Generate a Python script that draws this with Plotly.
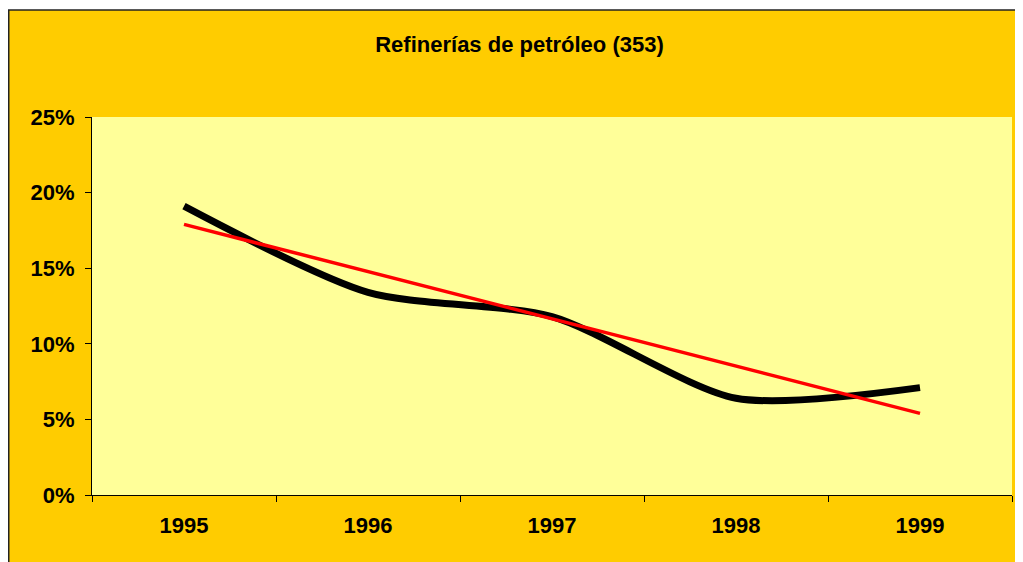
import plotly.graph_objects as go

# data
years = ["1995", "1996", "1997", "1998", "1999"]
share = [19.1, 13.4, 11.8, 6.4, 7.1]           # black series, %
trend_years = ["1995", "1999"]
trend = [17.9, 5.4]                             # red linear trend, %
y_ticks = [0, 5, 10, 15, 20, 25]
y_labels = ["<b>0%</b>", "<b>5%</b>", "<b>10%</b>", "<b>15%</b>",
            "<b>20%</b>", "<b>25%</b>"]

GOLD = "#FFCC00"
PALE = "#FFFF99"
FONT = "Liberation Sans, Arial, sans-serif"

# page body adds 8px, so the figure is sized to fit the window
W, H = 1015, 554
L, R, T, B = 84, 11, 109, 67
PW, PH = W - L - R, H - T - B

fig = go.Figure()
fig.add_trace(go.Scatter(
    x=years, y=share, mode="lines",
    line=dict(color="black", width=7, shape="spline", smoothing=0.75),
    hoverinfo="skip",
))
fig.add_trace(go.Scatter(
    x=trend_years, y=trend, mode="lines",
    line=dict(color="#FF0000", width=3.5),
    hoverinfo="skip",
))

# white strip above the chart frame, and the frame lines
fig.add_shape(type="rect", xref="paper", yref="paper",
              x0=-L / PW, x1=(W + 5 - L) / PW,
              y0=(PH + T - 2) / PH, y1=(PH + T + 5) / PH,
              fillcolor="white", line=dict(width=0), layer="below")
fig.add_shape(type="line", xref="paper", yref="paper",
              x0=-L / PW, x1=(W + 5 - L) / PW,
              y0=(PH + T - 2) / PH, y1=(PH + T - 2) / PH,
              line=dict(color="#222222", width=1.5))
fig.add_shape(type="line", xref="paper", yref="paper",
              x0=(0.75 - L) / PW, x1=(0.75 - L) / PW,
              y0=-B / PH - 0.1, y1=(PH + T - 2) / PH,
              line=dict(color="#222222", width=1.5))

fig.update_layout(
    width=W, height=H,
    margin=dict(l=L, r=R, t=T, b=B),
    paper_bgcolor=GOLD,
    plot_bgcolor=PALE,
    showlegend=False,
    font=dict(family=FONT, color="black"),
    title=dict(text="<b>Refinerías de petróleo (353)</b>",
               font=dict(size=22, family=FONT, color="black"),
               x=511.5 / W, xanchor="center",
               y=1 - 36 / H, yanchor="middle"),
    xaxis=dict(type="category", range=[-0.5, 4.5],
               tickson="boundaries", ticks="outside", ticklen=6,
               tickcolor="black", showline=True, linecolor="black",
               linewidth=1, showgrid=False, zeroline=False,
               tickprefix="<b>", ticksuffix="</b>",
               tickfont=dict(size=22, family=FONT, color="black"),
               ticklabelstandoff=11),
    yaxis=dict(range=[0, 25], tickvals=y_ticks, ticktext=y_labels,
               ticks="outside", ticklen=6, tickcolor="black",
               showline=True, linecolor="black", linewidth=1,
               showgrid=False, zeroline=False,
               tickfont=dict(size=22, family=FONT, color="black"),
               ticklabelstandoff=6),
)

fig.write_html("out.html")
